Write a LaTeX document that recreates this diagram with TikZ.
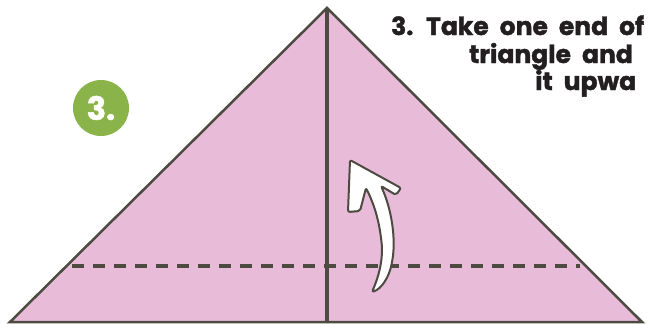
\documentclass[tikz,border=0pt]{standalone}
\usepackage{fontspec}
\newfontfamily\labelfont{Poppins}[BoldFeatures={FakeBold=1.5}]
\usepackage{xcolor}
\usepackage{tikz}
\usetikzlibrary{positioning}

\definecolor{paperpink}{HTML}{E8BCD9}
\definecolor{inkgray}{HTML}{4D4A42}
\definecolor{badgegreen}{HTML}{8AB44A}
\definecolor{textblack}{HTML}{231F20}
\newcommand\wordgap{\spaceskip 11pt\relax}

\begin{document}
\begin{tikzpicture}[
    x=1pt, y=-1pt,
    paper/.style={draw=inkgray, fill=paperpink, line width=2.5pt},
    crease/.style={draw=inkgray, line width=4pt},
    fold/.style={draw=inkgray, line width=4.5pt, dash pattern=on 12pt off 9pt},
    flip/.style={draw=inkgray, fill=white, line width=2pt, line join=round, rounded corners=2pt},
    badge/.style={circle, fill=badgegreen, minimum size=56pt, inner sep=0pt, text=white, font=\labelfont\bfseries\fontsize{32}{32}\selectfont},
    steptext/.style={anchor=base west, inner sep=0pt, text=textblack, font=\labelfont\bfseries\fontsize{25}{28}\selectfont\wordgap}
]
\useasboundingbox (0,0) rectangle (648,324);
\clip (0,0) rectangle (648,324);

% Paper triangle
\coordinate (apex) at (327,8);
\coordinate (left) at (10,322);
\coordinate (right) at (642,322);
\coordinate (mid) at (327,322);
\draw[paper] (left) -- (apex) -- (right) -- cycle;

% Fold line and centre crease
\coordinate (foldL) at (72,266);
\coordinate (foldR) at (580,266);
\draw[fold] (foldL) -- (foldR);
\draw[crease] (apex) -- (mid);

% Curved arrow
\draw[flip] (350,160) -- (401,188) -- (396,195) -- (381,186)
    .. controls (392,210) and (396,240) .. (392,262)
    .. controls (389,278) and (381,289) .. (372,292)
    .. controls (378,278) and (384,260) .. (381,238)
    .. controls (378,215) and (372,200) .. (366,188)
    -- (360,211) -- (348,212) -- cycle;

% Step number
\node[badge] (num) at (101,108) {3.};

% Instructions
\node[steptext] (line1) at (391,35) {3. Take one end of};
\node[steptext] (line2) at (469,63) {triangle and};
\node[steptext] (line3) at (535,90) {it upwa};

\end{tikzpicture}
\end{document}
